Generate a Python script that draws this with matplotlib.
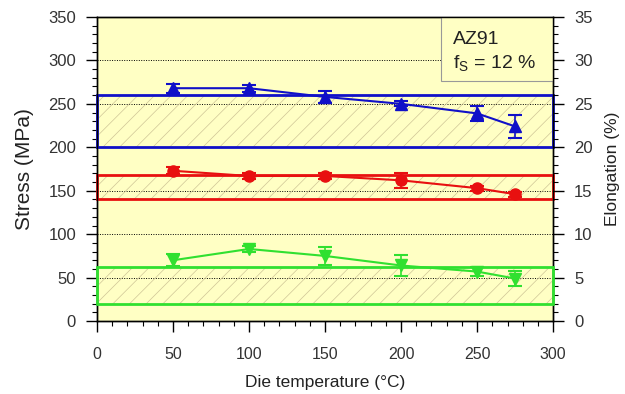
import matplotlib
matplotlib.use("Agg")
import matplotlib.pyplot as plt
from matplotlib.patches import Rectangle
from matplotlib.ticker import MultipleLocator

plt.rcParams['font.family'] = ['Liberation Sans', 'DejaVu Sans']
plt.rcParams['hatch.linewidth'] = 0.5

temps = [50, 100, 150, 200, 250, 275]
uts = [268, 268, 258, 250, 239, 224]
uts_err = [5, 4, 7, 3, 9, 13]
ys = [173, 167, 167, 162, 153, 146]
ys_err = [4, 3, 4, 9, 3, 3]
elong = [7.0, 8.3, 7.5, 6.4, 5.7, 4.9]
elong_err = [0.7, 0.4, 1.0, 1.2, 0.5, 0.9]

uts_band = (200, 260)
ys_band = (140, 168)
elong_band = (2.0, 6.25)

blue = '#1010C8'
red = '#E81010'
green = '#30E030'
bg = '#FFFFC4'

fig = plt.figure(figsize=(6.25, 3.94), dpi=100)
ax = fig.add_axes([0.155, 0.185, 0.73, 0.772])
ax.set_facecolor(bg)
ax2 = ax.twinx()

ax.set_xlim(0, 300)
ax.set_ylim(0, 350)
ax2.set_ylim(0, 35)

for g in [50, 100, 150, 200, 250, 300]:
    ax.axhline(g, color='black', lw=0.7, ls=(0, (1, 1.5)), zorder=1)

def band(axis, lo, hi, col):
    axis.add_patch(Rectangle((0, lo), 300, hi - lo, facecolor='none', edgecolor='#CFC596',
                             hatch='//', lw=0, zorder=2))
    axis.add_patch(Rectangle((0, lo), 300, hi - lo, facecolor='none', edgecolor=col,
                             lw=2, zorder=3, clip_on=False))

band(ax, *uts_band, blue)
band(ax, *ys_band, red)
band(ax2, *elong_band, green)

ax.errorbar(temps, uts, yerr=uts_err, color=blue, marker='^', ms=8, lw=1.5,
            capsize=5, capthick=1.5, elinewidth=1.2, zorder=5)
ax.errorbar(temps, ys, yerr=ys_err, color=red, marker='o', ms=8, lw=1.5,
            capsize=5, capthick=1.5, elinewidth=1.2, zorder=5)
ax2.errorbar(temps, elong, yerr=elong_err, color=green, marker='v', ms=8, lw=1.5,
             capsize=5, capthick=1.5, elinewidth=1.2, zorder=5)

ax.xaxis.set_major_locator(MultipleLocator(50))
ax.xaxis.set_minor_locator(MultipleLocator(10))
ax.yaxis.set_major_locator(MultipleLocator(50))
ax.yaxis.set_minor_locator(MultipleLocator(10))
ax2.yaxis.set_major_locator(MultipleLocator(5))
ax2.yaxis.set_minor_locator(MultipleLocator(1))

for a in (ax, ax2):
    a.tick_params(which='major', direction='out', length=8, width=1, labelsize=12, colors='black')
    a.tick_params(which='minor', direction='out', length=3.6, width=0.8)
    for s in a.spines.values():
        s.set_linewidth(1.0)
ax.tick_params(axis='y', labelcolor='#333333', pad=7)
ax2.tick_params(axis='y', labelcolor='#333333', pad=7)
ax.tick_params(axis='x', labelcolor='#333333', pad=11)
ax.tick_params(axis='x', which='major', labelsize=11.5)

ax.set_xlabel('Die temperature (°C)', fontsize=12.5, color='#222222', labelpad=9)
ax.set_ylabel('Stress (MPa)', fontsize=15, color='#222222', labelpad=10)
ax2.set_ylabel('Elongation (%)', fontsize=12.5, color='#222222', labelpad=9)

ax.add_patch(Rectangle((0.754, 0.789), 0.246, 0.211, transform=ax.transAxes,
                       facecolor=bg, edgecolor='#999999', lw=0.8, zorder=9))
ax.text(0.78, 0.911, 'AZ91', transform=ax.transAxes,
        ha='left', va='baseline', fontsize=14, color='#222222', zorder=10)
ax.text(0.78, 0.832, '$\\mathregular{f_S}$ = 12 %', transform=ax.transAxes,
        ha='left', va='baseline', fontsize=14, color='#222222', zorder=10)

fig.savefig('out.png', dpi=100)
